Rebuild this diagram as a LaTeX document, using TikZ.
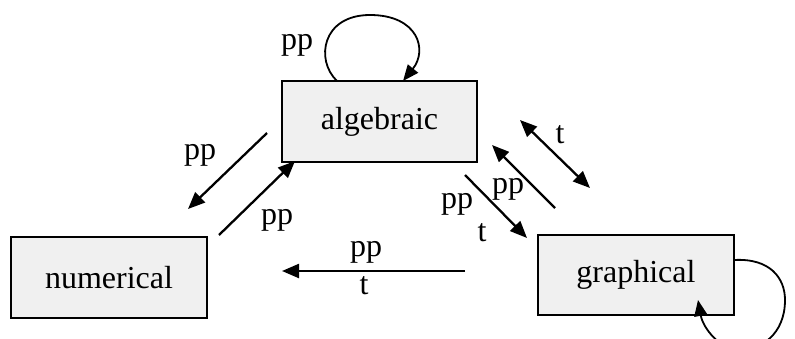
\documentclass[tikz,border=0pt]{standalone}
\usepackage{fontspec}
\setmainfont{Liberation Serif}
\usetikzlibrary{arrows.meta}
\definecolor{boxfill}{HTML}{F0F0F0}
\tikzset{
  stbox/.style={draw=black, line width=2pt, fill=boxfill, inner sep=0pt, font=\fontsize{32}{38}\selectfont},
  lbl/.style={inner sep=0pt, font=\fontsize{32}{38}\selectfont},
  arr/.style={line width=2.3pt, -{Triangle[length=17pt,width=14pt]}},
  darr/.style={line width=2.3pt, {Triangle[length=17pt,width=14pt]}-{Triangle[length=17pt,width=14pt]}},
  loop/.style={line width=1.8pt, -{Triangle[length=16pt,width=13pt]}}
}
\begin{document}
\begin{tikzpicture}[x=1pt,y=-1pt]
\path[use as bounding box] (0,0) rectangle (795,338);
\clip (0,0) rectangle (795,338);
% boxes
\node[stbox, minimum width=195pt, minimum height=81pt] (alg) at (379.5,121.5) {algebraic};
\node[stbox, minimum width=196pt, minimum height=81pt] (num) at (109,277.5) {numerical};
\node[stbox, minimum width=196pt, minimum height=80pt] (gra) at (636,275) {graphical};
% endpoints
\coordinate (a1s) at (267,133); \coordinate (a1e) at (188,209);
\coordinate (a2s) at (219,235); \coordinate (a2e) at (295,161);
\coordinate (a3s) at (465,271); \coordinate (a3e) at (282,271);
\coordinate (a4s) at (465,175); \coordinate (a4e) at (527,238);
\coordinate (a5s) at (555,208); \coordinate (a5e) at (492,145);
\coordinate (a6s) at (520,120); \coordinate (a6e) at (590,188);
\draw[arr] (a1s) -- (a1e);
\draw[arr] (a2s) -- (a2e);
\draw[arr] (a3s) -- (a3e);
\draw[arr] (a4s) -- (a4e);
\draw[arr] (a5s) -- (a5e);
\draw[darr] (a6s) -- (a6e);
% self loops
\coordinate (l1s) at (337,81); \coordinate (l1m) at (370,15); \coordinate (l1e) at (403,81);
\draw[loop] (l1s) .. controls (315,60) and (322,15) .. (l1m) .. controls (418,15) and (428,50) .. (l1e);
\coordinate (l2s) at (734,260); \coordinate (l2m) at (785,300); \coordinate (l2b) at (740,350); \coordinate (l2e) at (698,300);
\draw[loop] (l2s) .. controls (770,258) and (785,278) .. (l2m) .. controls (785,335) and (760,350) .. (l2b) .. controls (720,350) and (703,328) .. (l2e);
% labels
\node[lbl] (t1) at (297,45) {pp};
\node[lbl] (t2) at (200,155) {pp};
\node[lbl] (t3) at (277,220) {pp};
\node[lbl] (t4) at (366,252) {pp};
\node[lbl] (t5) at (364,286) {t};
\node[lbl] (t6) at (457,204) {pp};
\node[lbl] (t7) at (482,233) {t};
\node[lbl] (t8) at (508,189) {pp};
\node[lbl] (t9) at (560,135) {t};
\end{tikzpicture}
\end{document}
